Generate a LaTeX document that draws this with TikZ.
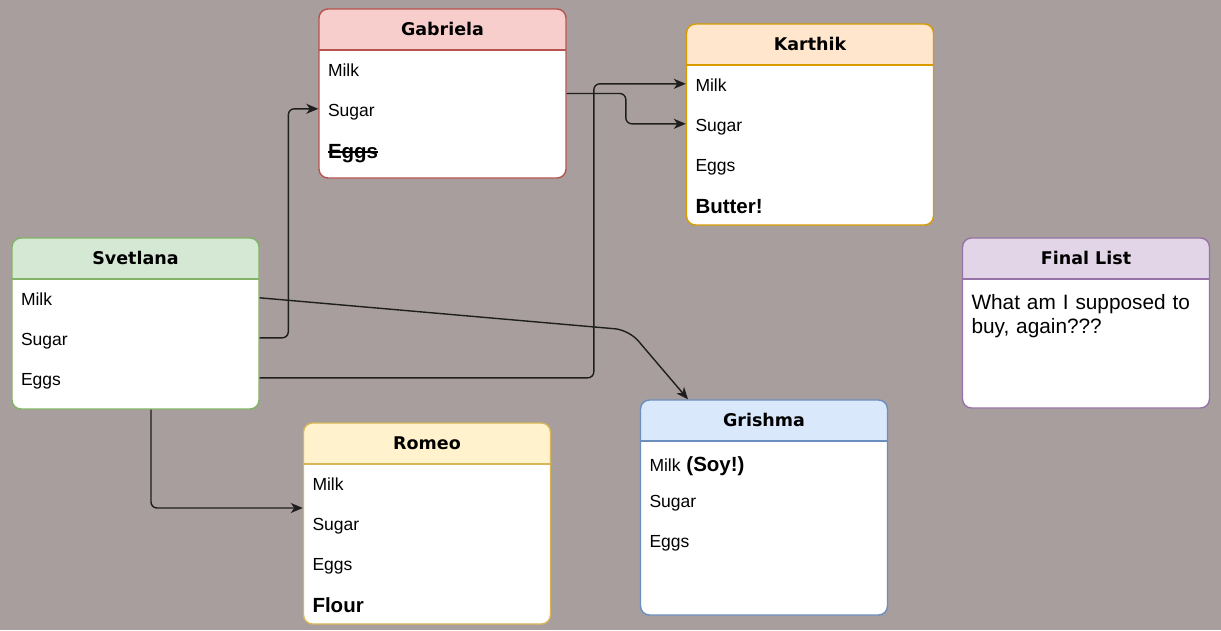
\documentclass[tikz,border=0pt]{standalone}
\usepackage{fontspec}
\setmainfont{Liberation Sans}
\newfontfamily\titolFont{DejaVu Sans}
\usetikzlibrary{arrows.meta}
\newcommand{\ratllat}[1]{\setbox0=\hbox{#1}\rlap{\raisebox{0.27em}{\rule{\wd0}{1.3pt}}}\box0}
\definecolor{fons}{RGB}{168,158,158}
\definecolor{verdCap}{RGB}{213,232,212}
\definecolor{verdVora}{RGB}{130,179,102}
\definecolor{vermellCap}{RGB}{248,206,204}
\definecolor{vermellVora}{RGB}{184,84,80}
\definecolor{taronjaCap}{RGB}{255,230,204}
\definecolor{taronjaVora}{RGB}{215,155,0}
\definecolor{grocCap}{RGB}{255,242,204}
\definecolor{grocVora}{RGB}{214,182,86}
\definecolor{blauCap}{RGB}{218,232,252}
\definecolor{blauVora}{RGB}{108,142,191}
\definecolor{lilaCap}{RGB}{225,213,231}
\definecolor{lilaVora}{RGB}{150,115,166}
\definecolor{liniaFosca}{RGB}{30,30,30}
\tikzset{capsaLlista/.style 2 args={rectangle, rounded corners=9pt, minimum width=247pt, line width=1.4pt, draw=#2, fill=white,
	path picture={
		\fill[#1, sharp corners] (path picture bounding box.north west) rectangle ([yshift=-41pt]path picture bounding box.north east);
		\draw[#2, sharp corners, line width=1.4pt] ([yshift=-41pt]path picture bounding box.north west) -- ([yshift=-41pt]path picture bounding box.north east);
	}}}
\tikzstyle{titolLlista} = [font=\titolFont\bfseries\fontsize{17.5}{21}\selectfont, inner sep=0]
\tikzstyle{elementLlista} = [text width=229pt, align=left, inner sep=0, text height=16pt, text depth=1pt, font=\fontsize{17.5}{21}\selectfont]
\tikzstyle{elementDestacat} = [elementLlista, font=\fontsize{20.5}{24}\selectfont\bfseries]
\tikzstyle{textNota} = [text width=229pt, align=left, inner sep=0, font=\fontsize{20.8}{24}\selectfont]
\tikzstyle{arrow} = [line width=1.4pt, draw=liniaFosca, rounded corners=6pt, -{Stealth[length=12pt, width=10pt, inset=3.5pt]}]

\begin{document}
\begin{tikzpicture}[x=1pt, y=-1pt, node distance=40pt]
	
	\path[fill=fons] (0,0) rectangle (1221,630);
	
	
	% Definici\'o de nodes (capses de cada llista)
	\node (llistaGabriela) [capsaLlista={vermellCap}{vermellVora}, minimum height=169pt] at (442.5,93.5) {};
	\node (llistaKarthik) [capsaLlista={taronjaCap}{taronjaVora}, minimum height=201pt] at (810,124.5) {};
	\node (llistaSvetlana) [capsaLlista={verdCap}{verdVora}, minimum height=171pt] at (135.5,323.5) {};
	\node (llistaRomeo) [capsaLlista={grocCap}{grocVora}, minimum height=201pt] at (427,523.5) {};
	\node (llistaGrishma) [capsaLlista={blauCap}{blauVora}, minimum height=215pt] at (764,507.5) {};
	\node (llistaFinal) [capsaLlista={lilaCap}{lilaVora}, minimum height=170pt] at (1086,323) {};
	
	
	%Titols de les capses
	\node (nomGabriela) [titolLlista] at ([yshift=-20.5pt]llistaGabriela.north) {Gabriela};
	\node (nomKarthik) [titolLlista] at ([yshift=-20.5pt]llistaKarthik.north) {Karthik};
	\node (nomSvetlana) [titolLlista] at ([yshift=-20.5pt]llistaSvetlana.north) {Svetlana};
	\node (nomRomeo) [titolLlista] at ([yshift=-20.5pt]llistaRomeo.north) {Romeo};
	\node (nomGrishma) [titolLlista] at ([yshift=-20.5pt]llistaGrishma.north) {Grishma};
	\node (nomFinal) [titolLlista] at ([yshift=-20.5pt]llistaFinal.north) {Final List};
	
	
	%Elements de cada llista
	\node (gabLlet) [elementLlista, below of=nomGabriela] {Milk};
	\node (gabSucre) [elementLlista, below of=gabLlet] {Sugar};
	\node (gabOus) [elementDestacat, below of=gabSucre, yshift=-2pt] {\ratllat{Eggs}};
	
	\node (karLlet) [elementLlista, below of=nomKarthik] {Milk};
	\node (karSucre) [elementLlista, below of=karLlet] {Sugar};
	\node (karOus) [elementLlista, below of=karSucre] {Eggs};
	\node (karMantega) [elementDestacat, below of=karOus, yshift=-2pt] {Butter!};
	
	\node (svLlet) [elementLlista, below of=nomSvetlana] {Milk};
	\node (svSucre) [elementLlista, below of=svLlet] {Sugar};
	\node (svOus) [elementLlista, below of=svSucre] {Eggs};
	
	\node (romLlet) [elementLlista, below of=nomRomeo] {Milk};
	\node (romSucre) [elementLlista, below of=romLlet] {Sugar};
	\node (romOus) [elementLlista, below of=romSucre] {Eggs};
	\node (romFarina) [elementDestacat, below of=romOus, yshift=-2pt] {Flour};
	
	\node (griLlet) [elementLlista, below of=nomGrishma, yshift=-4pt] {Milk {\bfseries\fontsize{20.5}{24}\selectfont (Soy!)}};
	\node (griSucre) [elementLlista, below of=griLlet, yshift=4pt] {Sugar};
	\node (griOus) [elementLlista, below of=griSucre] {Eggs};
	
	\node (textFinal) [textNota, below of=nomFinal, yshift=-18pt] {What am I supposed to\\buy, again???};
	
	\coordinate (colzeGrishma) at (629,330);
	
	
	% Fletxes entre els nodes
	\draw [arrow] (llistaSvetlana.east |- svSucre) -| ([xshift=-30pt]llistaGabriela.west |- gabSucre) -- (llistaGabriela.west |- gabSucre);
	\draw [arrow] (llistaSvetlana.east |- svOus) -| ([xshift=-92pt]llistaKarthik.west |- karLlet) -- (llistaKarthik.west |- karLlet);
	\draw [arrow] (llistaGabriela.east) -| ([xshift=-60pt]llistaKarthik.west |- karSucre) -- (llistaKarthik.west |- karSucre);
	\draw [arrow, rounded corners=14pt] (llistaSvetlana.east |- svLlet) -- (colzeGrishma) -- ([xshift=-76pt]llistaGrishma.north);
	\draw [arrow] ([xshift=15.5pt]llistaSvetlana.south) |- ([yshift=15.5pt]llistaRomeo.west);
	
	
\end{tikzpicture}
\end{document}
